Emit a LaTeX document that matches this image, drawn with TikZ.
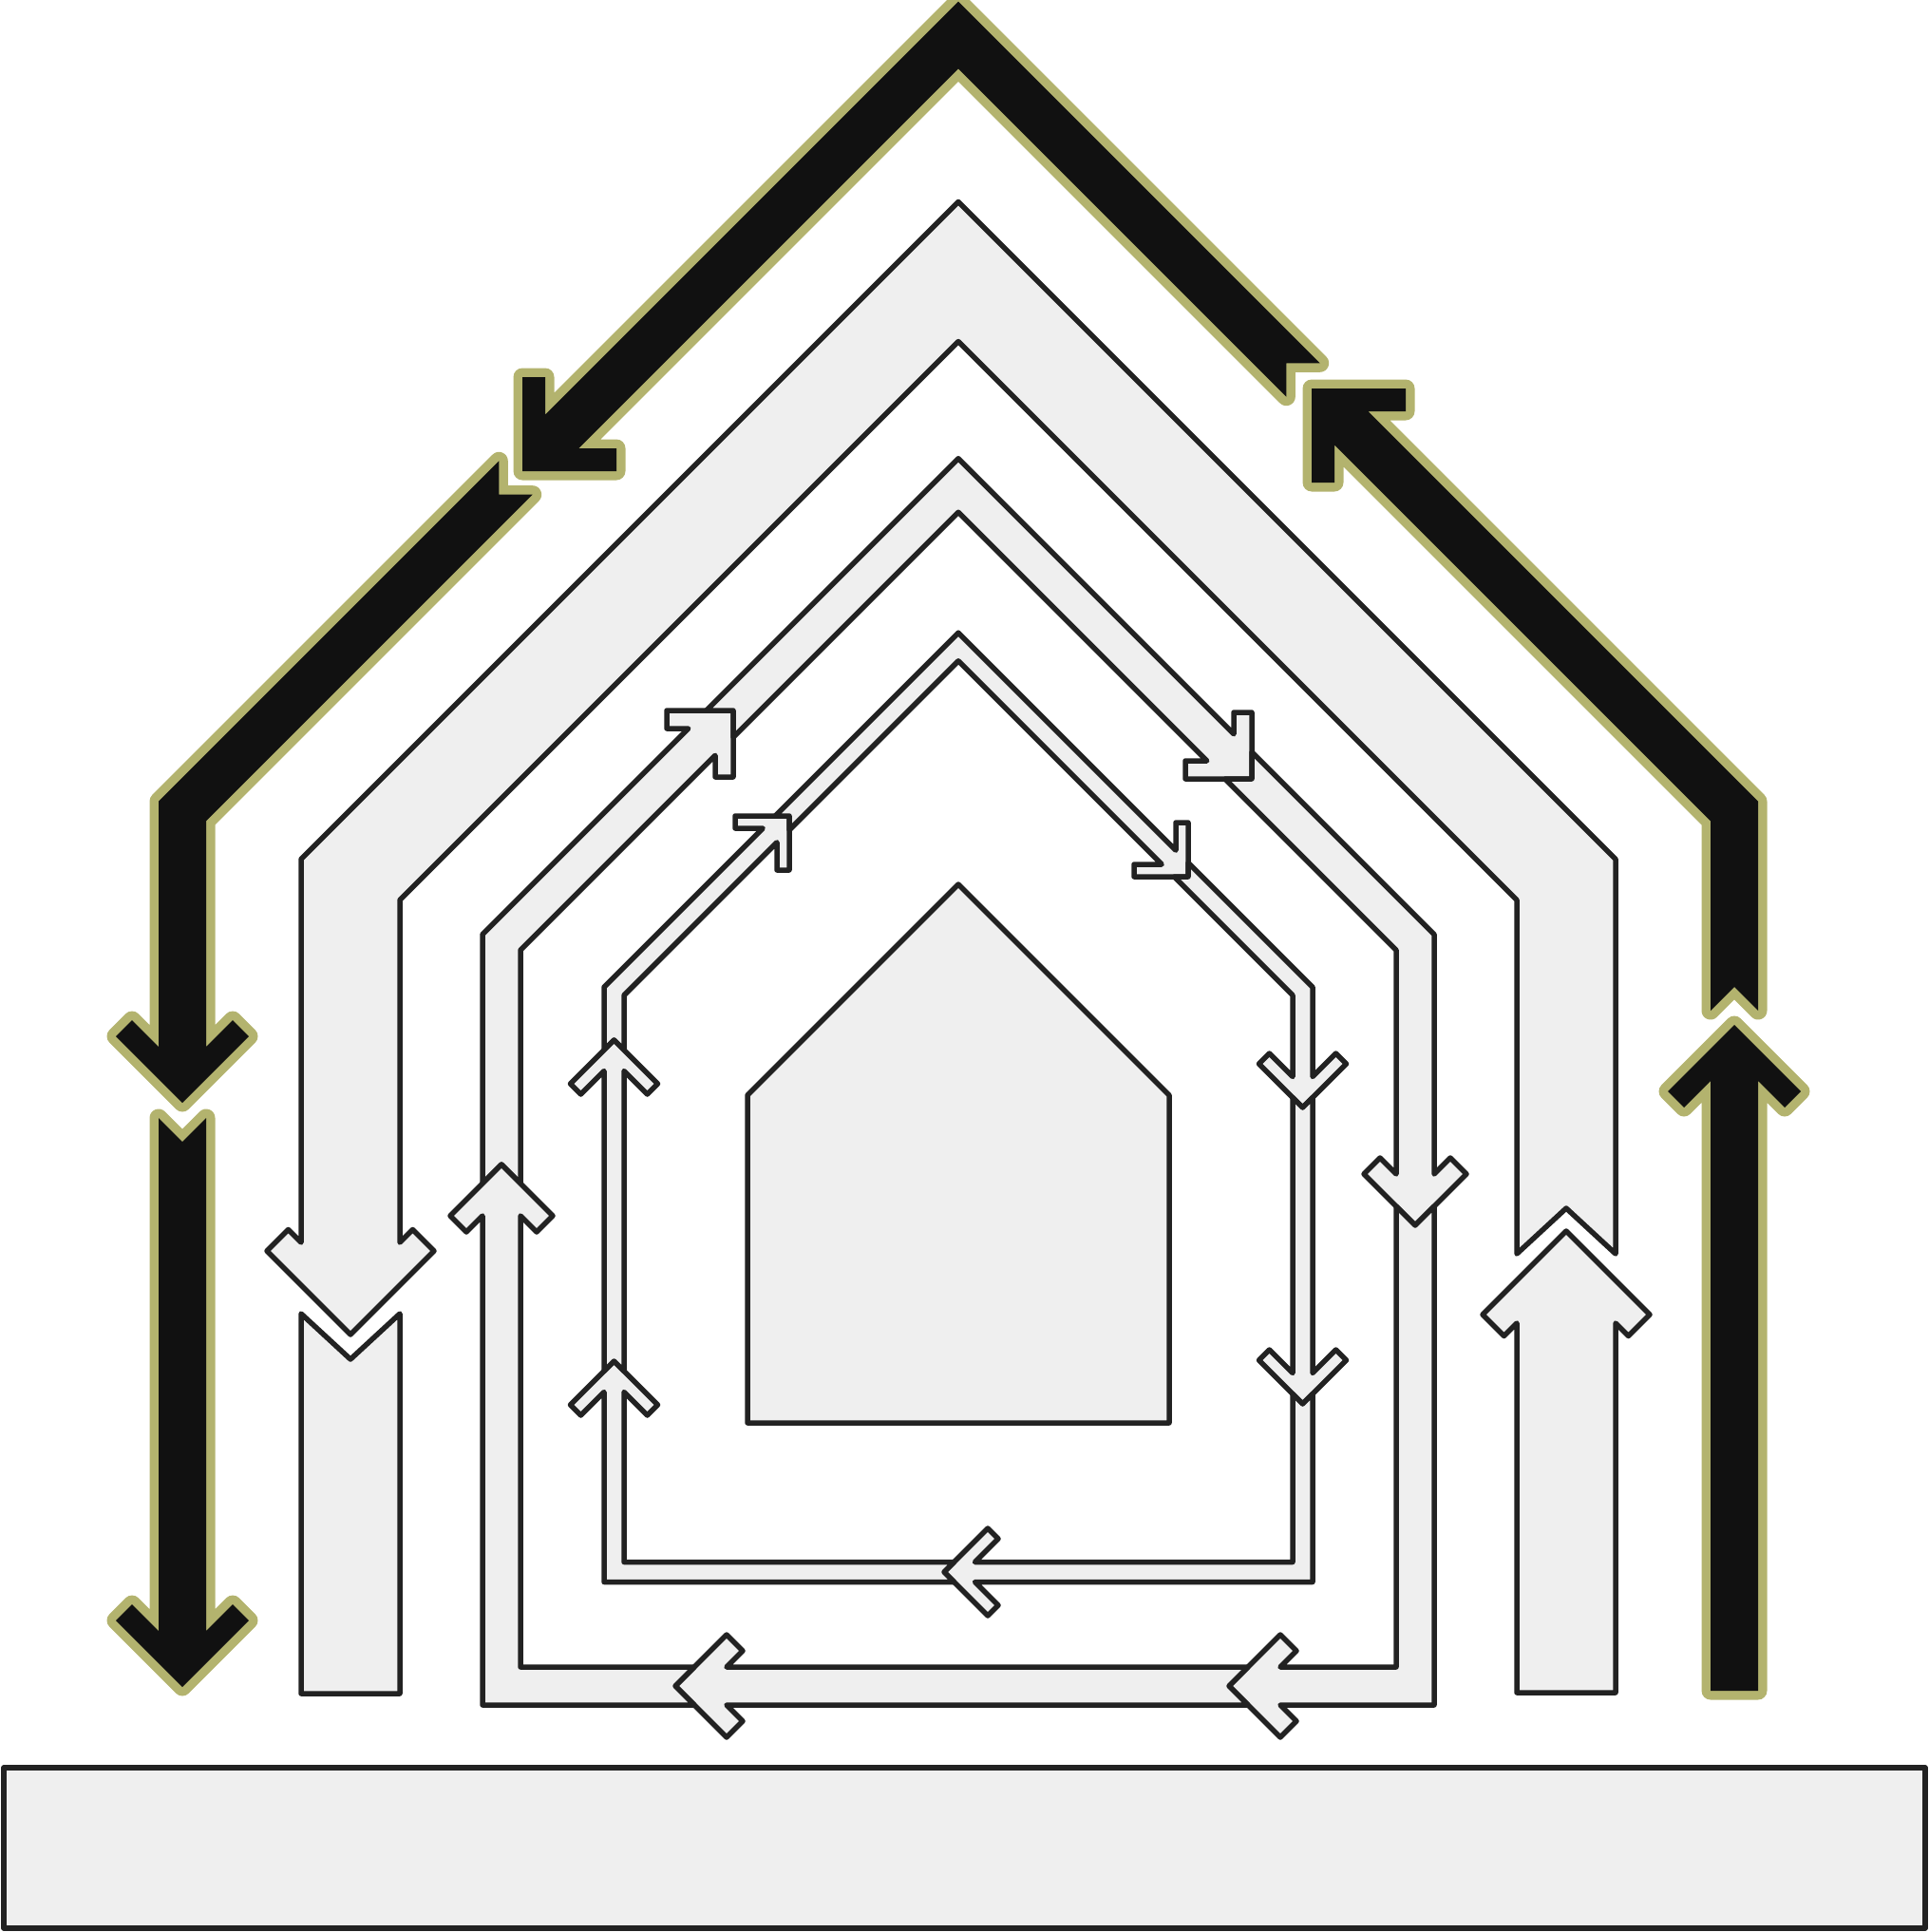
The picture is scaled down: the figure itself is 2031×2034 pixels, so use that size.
\documentclass[tikz,border=0pt]{standalone}
\usepackage{tikz}
\definecolor{kface}{HTML}{111111}
\definecolor{kedge}{HTML}{B3B36E}
\definecolor{gface}{HTML}{EFEFEF}
\definecolor{gedge}{HTML}{222222}

\begin{document}
\begin{tikzpicture}[x=1pt, y=-1pt, line join=round,
  kband/.style={preaction={draw=kedge, line width=19pt}, fill=kface},
  gband/.style={draw=gedge, fill=gface, line width=5.5pt}]
\useasboundingbox (0,0) rectangle (2031,2034);

% outer black loop
\path[kband] (1389.68,382.32) -- (1009,1.64) -- (574,436.64) -- (574,397) -- (550,397) -- (550,496) -- (649,496) -- (649,472) -- (609.36,472) -- (1009,72.36) -- (1354.32,417.68) -- (1354.32,382.32) -- cycle;
\path[kband] (525.32,485.32) -- (167,843.64) -- (167,1102) -- (139,1074) -- (122,1091) -- (192,1161) -- (262,1091) -- (245,1074) -- (217,1102) -- (217,864.36) -- (560.68,520.68) -- (525.32,520.68) -- cycle;
\path[kband] (167,1177) -- (167,1717) -- (139,1689) -- (122,1706) -- (192,1776) -- (262,1706) -- (245,1689) -- (217,1717) -- (217,1177) -- (192,1202) -- cycle;
\path[kband] (1801,1780) -- (1801,1138) -- (1773,1166) -- (1756,1149) -- (1826,1079) -- (1896,1149) -- (1879,1166) -- (1851,1138) -- (1851,1780) -- cycle;
\path[kband] (1851,1064) -- (1851,843.64) -- (1440.36,433) -- (1480,433) -- (1480,409) -- (1381,409) -- (1381,508) -- (1405,508) -- (1405,468.36) -- (1801,864.36) -- (1801,1064) -- (1826,1039) -- cycle;

% wide grey band
\path[gband] (1701,1320) -- (1701,904.46) -- (1009,212.46) -- (317,904.46) -- (317,1308) -- (303.5,1294.5) -- (281,1317) -- (369,1405) -- (457,1317) -- (434.5,1294.5) -- (421,1308) -- (421,947.54) -- (1009,359.54) -- (1597,947.54) -- (1597,1320) -- (1649,1272) -- cycle;
\path[gband] (317,1383) -- (317,1783) -- (421,1783) -- (421,1383) -- (369,1431) -- cycle;
\path[gband] (1597,1782) -- (1597,1393) -- (1583.5,1406.5) -- (1561,1384) -- (1649,1296) -- (1737,1384) -- (1714.5,1406.5) -- (1701,1393) -- (1701,1782) -- cycle;

% middle grey loop
\path[gband] (508,1246) -- (508,983.72) -- (724.72,767) -- (702,767) -- (702,748) -- (772,748) -- (772,818) -- (753,818) -- (753,795.28) -- (548,1000.28) -- (548,1246) -- (528,1226) -- cycle;
\path[gband] (743.72,748) -- (1009,482.72) -- (1299,772.72) -- (1299,750) -- (1318,750) -- (1318,820) -- (1248,820) -- (1248,801) -- (1270.72,801) -- (1009,539.28) -- (772,776.28) -- (772,748) -- cycle;
\path[gband] (1318,791.72) -- (1510,983.72) -- (1510,1236) -- (1527,1219) -- (1544,1236) -- (1490,1290) -- (1436,1236) -- (1453,1219) -- (1470,1236) -- (1470,1000.28) -- (1289.72,820) -- (1318,820) -- cycle;
\path[gband] (1510,1270) -- (1510,1795) -- (1348,1795) -- (1365,1812) -- (1348,1829) -- (1294,1775) -- (1348,1721) -- (1365,1738) -- (1348,1755) -- (1470,1755) -- (1470,1270) -- (1490,1290) -- cycle;
\path[gband] (1314,1795) -- (765,1795) -- (782,1812) -- (765,1829) -- (711,1775) -- (765,1721) -- (782,1738) -- (765,1755) -- (1314,1755) -- (1294,1775) -- cycle;
\path[gband] (731,1795) -- (508,1795) -- (508,1280) -- (491,1297) -- (474,1280) -- (528,1226) -- (582,1280) -- (565,1297) -- (548,1280) -- (548,1755) -- (731,1755) -- (711,1775) -- cycle;

% inner grey loop
\path[gband] (636,1105.5) -- (636,1039.15) -- (803.15,872) -- (774,872) -- (774,859) -- (831,859) -- (831,916) -- (818,916) -- (818,886.85) -- (657,1047.85) -- (657,1105.5) -- (646.5,1095) -- cycle;
\path[gband] (816.15,859) -- (1009,666.15) -- (1238,895.15) -- (1238,866) -- (1251,866) -- (1251,923) -- (1194,923) -- (1194,910) -- (1223.15,910) -- (1009,695.85) -- (831,873.85) -- (831,859) -- cycle;
\path[gband] (1251,908.15) -- (1382,1039.15) -- (1382,1133.5) -- (1406.5,1109) -- (1417.5,1120) -- (1371.5,1166) -- (1325.5,1120) -- (1336.5,1109) -- (1361,1133.5) -- (1361,1047.85) -- (1236.15,923) -- (1251,923) -- cycle;
\path[gband] (1382,1155.5) -- (1382,1445.5) -- (1406.5,1421) -- (1417.5,1432) -- (1371.5,1478) -- (1325.5,1432) -- (1336.5,1421) -- (1361,1445.5) -- (1361,1155.5) -- (1371.5,1166) -- cycle;
\path[gband] (1382,1467.5) -- (1382,1665.5) -- (1026.5,1665.5) -- (1051,1690) -- (1040,1701) -- (994,1655) -- (1040,1609) -- (1051,1620) -- (1026.5,1644.5) -- (1361,1644.5) -- (1361,1467.5) -- (1371.5,1478) -- cycle;
\path[gband] (1004.5,1665.5) -- (636,1665.5) -- (636,1465.5) -- (611.5,1490) -- (600.5,1479) -- (646.5,1433) -- (692.5,1479) -- (681.5,1490) -- (657,1465.5) -- (657,1644.5) -- (1004.5,1644.5) -- (994,1655) -- cycle;
\path[gband] (636,1443.5) -- (636,1127.5) -- (611.5,1152) -- (600.5,1141) -- (646.5,1095) -- (692.5,1141) -- (681.5,1152) -- (657,1127.5) -- (657,1443.5) -- (646.5,1433) -- cycle;

% house and ground
\path[gband] (787,1498) -- (787,1153) -- (1009,931) -- (1231,1153) -- (1231,1498) -- cycle;
\path[gband] (4,1861) rectangle (2027,2030);
\end{tikzpicture}
\end{document}
